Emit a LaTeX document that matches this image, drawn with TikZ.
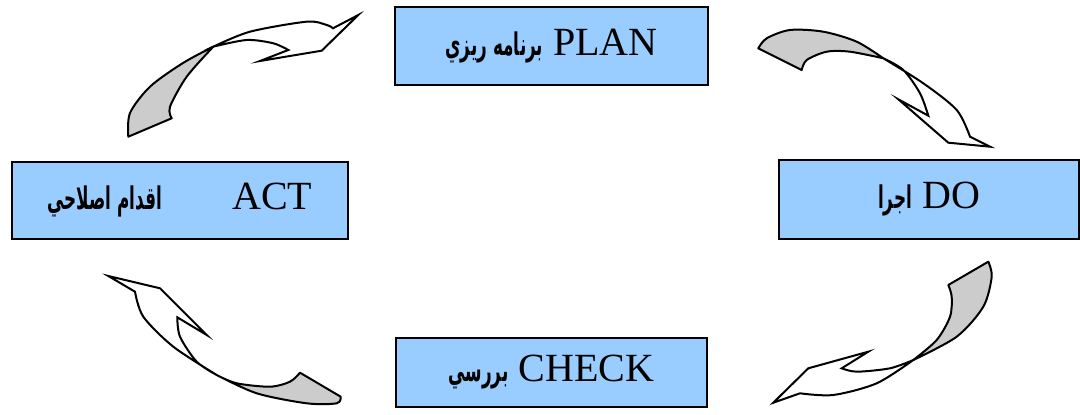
\documentclass[tikz,border=0pt]{standalone}
\usepackage{graphicx}
\usepackage{fontspec}
\setmainfont{Liberation Serif}
\newfontfamily\arabicfont[Script=Arabic]{DejaVu Sans}
\TeXXeTstate=1
\usetikzlibrary{positioning}
\definecolor{boxblue}{RGB}{153,204,255}
\newcommand{\persiantext}[1]{\scalebox{0.7}[1.3]{\arabicfont\bfseries\fontsize{12}{14}\selectfont\beginR #1\endR}}

\begin{document}
\begin{tikzpicture}[x=0.5pt, y=-0.5pt,
        box_node/.style={rectangle, draw=black, fill=boxblue, line width=1.2pt, inner sep=0pt, font=\fontsize{20}{24}\selectfont},
        ribbon_back/.style={draw=black, fill=black!20, line width=1pt, line join=round},
        ribbon_front/.style={draw=black, fill=white, line width=1pt, line join=miter}
        ]
            \useasboundingbox (0,0) rectangle (1080,415);

            % Ribbons
            % plan -> do
            \filldraw[ribbon_back] (758.3,48.3) -- (801.7,70) -- plot[smooth] coordinates {(801.7,70) (806.7,60) (826.7,51.7) (850,51.7) (883.3,58.3)} -- plot[smooth] coordinates {(883.3,58.3) (856.7,41.7) (823.3,31.7) (790,30) (766.7,38.3) (758.3,48.3)} -- cycle;
            \filldraw[ribbon_front] plot[smooth] coordinates {(883.3,58.3) (923.3,83.3) (956.7,110) (970,136.7)} -- (990,146.7) -- (948.3,142.7) -- (898.3,99.3) -- (928.3,115.7) -- plot[smooth] coordinates {(928.3,115.7) (920,93.3) (903.3,70) (883.3,58.3)} -- cycle;
            % do -> check
            \filldraw[ribbon_back] (948.3,285) -- (988.3,261.7) -- plot[smooth] coordinates {(988.3,261.7) (991.7,276.7) (983.3,306.7) (956.7,336.7) (913.3,360)} -- plot[smooth] coordinates {(913.3,360) (936.7,340) (950,316.7) (951.7,296.7) (948.3,285)} -- cycle;
            \filldraw[ribbon_front] plot[smooth] coordinates {(913.3,360) (876.7,383.3) (833.3,395) (800,393.3)} -- (773.3,402.7) -- (808.3,368.3) -- (868.3,351.7) -- (841.7,368.3) -- plot[smooth] coordinates {(841.7,368.3) (856.7,371.7) (890,368.3) (913.3,360)} -- cycle;
            % check -> act
            \filldraw[ribbon_back] (300,372.7) -- (340.7,396.7) -- plot[smooth] coordinates {(340.7,396.7) (336.7,403.3) (306.7,403.3) (256.7,393.3) (216.7,375)} -- plot[smooth] coordinates {(216.7,375) (236.7,383.3) (270,386.7) (290,381.7) (300,372.7)} -- cycle;
            \filldraw[ribbon_front] plot[smooth] coordinates {(216.7,375) (173.3,346.7) (143.3,316.7) (135,291.7)} -- (108.3,276) -- (160,288.3) -- (206.7,335) -- (177.3,317.3) -- plot[smooth] coordinates {(177.3,317.3) (180,336.7) (196.7,361.7) (216.7,375)} -- cycle;
            % act -> plan
            \filldraw[ribbon_back] (128.3,136.7) -- (171.7,118.3) -- plot[smooth] coordinates {(171.7,118.3) (170,106.7) (186.7,76.7) (213.3,46.7)} -- plot[smooth] coordinates {(213.3,46.7) (183,63) (150,86.7) (130,113) (128.3,136.7)} -- cycle;
            \filldraw[ribbon_front] plot[smooth] coordinates {(213.3,46.7) (250,31.7) (306.7,21.7) (326.7,25) (333,28.3)} -- (358.3,15) -- (321.7,50.7) -- (260,61) -- (288.3,50) -- plot[smooth] coordinates {(288.3,50) (273.3,43.3) (246.7,40) (213.3,46.7)} -- cycle;

            % Boxes
            \node[box_node, minimum width=156.5pt, minimum height=39pt]   (plan_box)  at (551.5,46)    {\persiantext{برنامه ريزي}\ PLAN};
            \node[box_node, minimum width=150pt, minimum height=39.5pt]   (do_box)    at (929,199.5)   {\persiantext{اجرا}\ DO};
            \node[box_node, minimum width=155.5pt, minimum height=34.5pt] (check_box) at (551.5,372.5) {\persiantext{بررسي}\ CHECK};
            \node[box_node, minimum width=168pt, minimum height=38.5pt]   (act_box)   at (180,200.5)   {\persiantext{اقدام اصلاحي}\hspace{35pt}ACT};
        \end{tikzpicture}
\end{document}
